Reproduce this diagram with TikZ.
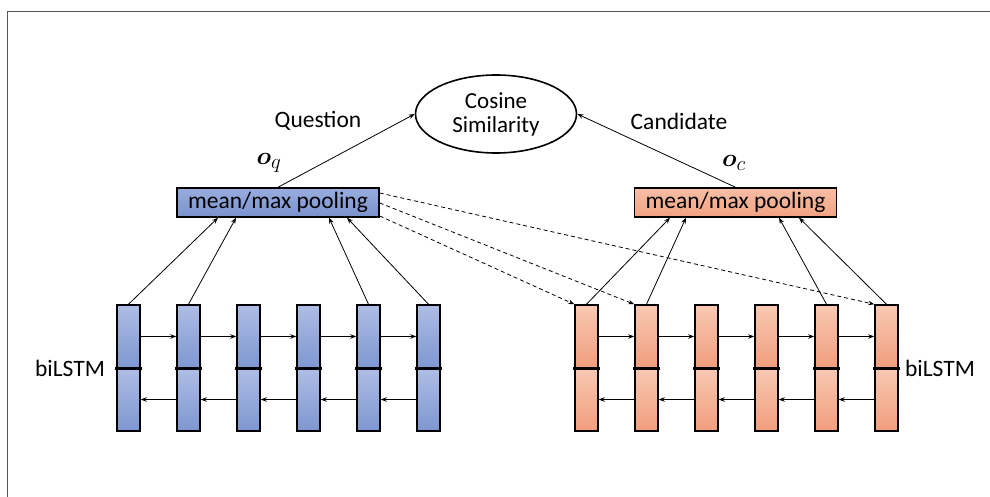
\documentclass[tikz,border=0pt]{standalone}
\usepackage{amsmath,bm}
\usepackage{fontspec}
\setmainfont{Carlito}
\usetikzlibrary{arrows.meta,calc,shapes.geometric}

\definecolor{bluetop}{RGB}{174,189,228}
\definecolor{bluebot}{RGB}{126,150,209}
\definecolor{orgtop}{RGB}{248,200,180}
\definecolor{orgbot}{RGB}{241,158,124}
\definecolor{bpooltop}{RGB}{152,172,222}
\definecolor{bpoolbot}{RGB}{122,146,205}
\definecolor{opooltop}{RGB}{248,190,165}
\definecolor{opoolbot}{RGB}{241,162,130}
\definecolor{framegray}{RGB}{85,85,85}

\begin{document}
\begin{tikzpicture}[x=1pt,y=-1pt,
  txt/.style={font=\fontsize{23.5}{28}\selectfont, inner sep=0pt},
  vec/.style={inner sep=0pt, font=\fontsize{28}{32}\selectfont},
  cellhalf/.style={draw=black, line width=1.5pt, minimum width=23pt,
    minimum height=63pt, inner sep=0pt},
  bhalf/.style={cellhalf, top color=bluetop, bottom color=bluebot},
  ohalf/.style={cellhalf, top color=orgtop, bottom color=orgbot},
  divider/.style={line width=2.6pt, line cap=rect},
  pool/.style={draw=black, line width=1.5pt, minimum width=202pt,
    minimum height=29pt, inner sep=0pt, font=\fontsize{23.5}{28}\selectfont},
  bpool/.style={pool, top color=bpooltop, bottom color=bpoolbot},
  opool/.style={pool, top color=opooltop, bottom color=opoolbot},
  conn/.style={line width=0.8pt, -{Stealth[length=6pt,width=4.5pt]}},
  dconn/.style={conn, dash pattern=on 4pt off 3pt},
  frame/.style={draw=framegray, line width=1.4pt}
]
\useasboundingbox (0,0) rectangle (990,497);

% frame lines along the top and left edges
\draw[frame] (7.5,497) -- (7.5,11.5) -- (990,11.5);

% similarity node
\node[ellipse, draw=black, line width=1.6pt, minimum width=161pt,
  minimum height=78pt, inner sep=0pt, align=center,
  font=\fontsize{23}{24}\selectfont] (cos) at (496,114) {Cosine\\Similarity};

% labels
\node[txt] (lq) at (318,121) {Question};
\node[txt] (lc) at (679,121) {Candidate};
\node[vec] (oq) at (269,163) {$\bm{o}_q$};
\node[vec] (oc) at (734,163) {$\bm{o}_c$};
\node[txt] (bl) at (70,368) {biLSTM};
\node[txt] (br) at (940,368) {biLSTM};

% pooling boxes
\node[bpool] (qp) at (278,202.5) {mean/max pooling};
\node[opool] (cp) at (735.5,202.5) {mean/max pooling};

% biLSTM cells
\foreach \i/\x in {1/128.5,2/188.5,3/248.5,4/308.5,5/368.5,6/428.5} {
  \node[bhalf] (qu\i) at (\x,336.5) {};
  \node[bhalf] (ql\i) at (\x,399.5) {};
  \draw[divider] (qu\i.south west) -- (qu\i.south east);
}
\foreach \i/\x in {1/586.5,2/646.5,3/706.5,4/766.5,5/826.5,6/886.5} {
  \node[ohalf] (cu\i) at (\x,336.5) {};
  \node[ohalf] (cl\i) at (\x,399.5) {};
  \draw[divider] (cu\i.south west) -- (cu\i.south east);
}

% recurrent connections
\foreach \i [evaluate=\i as \j using int(\i+1)] in {1,...,5} {
  \draw[conn] (qu\i.east) -- (qu\j.west);
  \draw[conn] (ql\j.west) -- (ql\i.east);
  \draw[conn] (cu\i.east) -- (cu\j.west);
  \draw[conn] (cl\j.west) -- (cl\i.east);
}

% entry points on the pooling boxes
\coordinate (qa) at ($(qp.south)+(-60,0)$);
\coordinate (qb) at ($(qp.south)+(-42,0)$);
\coordinate (qc) at ($(qp.south)+(51,0)$);
\coordinate (qd) at ($(qp.south)+(69,0)$);
\coordinate (ca) at ($(cp.south)+(-65.5,0)$);
\coordinate (cb) at ($(cp.south)+(-49.5,0)$);
\coordinate (cc) at ($(cp.south)+(43.5,0)$);
\coordinate (cd) at ($(cp.south)+(63.5,0)$);

\draw[conn] (qu1.north) -- (qa);
\draw[conn] (qu2.north) -- (qb);
\draw[conn] (qu5.north) -- (qc);
\draw[conn] (qu6.north) -- (qd);
\draw[conn] (cu1.north) -- (ca);
\draw[conn] (cu2.north) -- (cb);
\draw[conn] (cu5.north) -- (cc);
\draw[conn] (cu6.north) -- (cd);

% dashed links from the question pooling to candidate cells
\coordinate (qe1) at ($(qp.east)+(0,-9.5)$);
\coordinate (qe2) at ($(qp.east)+(0,0.5)$);
\coordinate (qe3) at ($(qp.east)+(0,13.5)$);
\draw[dconn] (qe1) -- (cu6.north west);
\draw[dconn] (qe2) -- (cu2.north west);
\draw[dconn] (qe3) -- (cu1.north west);

% pooled vectors to similarity
\draw[conn] (qp.north) -- (cos.west);
\draw[conn] (cp.north) -- (cos.east);
\end{tikzpicture}
\end{document}
